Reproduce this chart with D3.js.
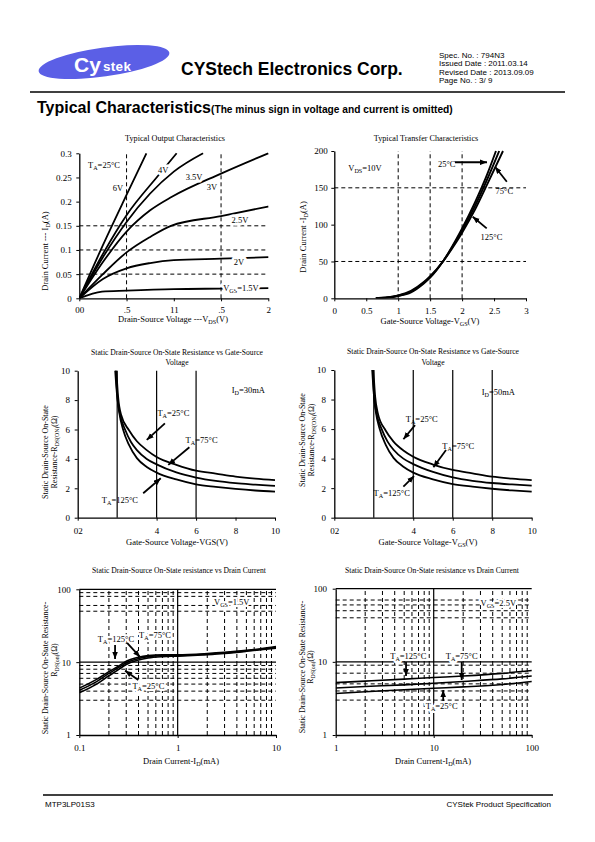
<!DOCTYPE html>
<html><head><meta charset="utf-8">
<script src="https://cdn.jsdelivr.net/npm/d3@7/dist/d3.min.js"></script>
<style>
html,body{margin:0;padding:0;background:#fff;}
svg{display:block;}
</style></head>
<body>
<svg id="page" width="595" height="842" xmlns="http://www.w3.org/2000/svg"></svg>
<script>
// ================= DATA =================
// --- Chart 1: Typical Output Characteristics (ID[A] vs VDS[V]) ---
const outXTicks = [0, 0.5, 1, 1.5, 2];
const outXTickLabels = ["00", ".5", "11", ".5", "2"];
const outYTicks = [0, 0.05, 0.1, 0.15, 0.2, 0.25, 0.3];
const outYTickLabels = ["0", "0.05", "0.1", "0.15", "0.2", "0.25", "0.3"];
const outGridX = [0.5, 1.5];
const outGridY = [0.05, 0.1, 0.15];
const outVgs6V   = [[0,0],[0.25,0.11],[0.5,0.214],[0.71,0.3]];
const outVgs4V   = [[0,0],[0.25,0.092],[0.5,0.172],[0.84,0.255],[1.03,0.3]];
const outVgs35V  = [[0,0],[0.25,0.085],[0.5,0.158],[1.0,0.262],[1.31,0.3]];
const outVgs3V   = [[0,0],[0.25,0.075],[0.5,0.138],[0.75,0.182],[0.98,0.21],[1.5,0.258],[2.0,0.3]];
const outVgs25V  = [[0,0],[0.25,0.05],[0.5,0.095],[0.75,0.127],[0.97,0.15],[1.5,0.17],[2.0,0.19]];
const outVgs2V   = [[0,0],[0.25,0.04],[0.5,0.062],[0.75,0.073],[1.0,0.079],[1.5,0.082],[2.0,0.085]];
const outVgs15V  = [[0,0],[0.24,0.014],[0.5,0.016],[1.0,0.019],[1.5,0.02],[2.0,0.021]];
const outLabelTexts = [["6V"],["4V"],["3.5V"],["3V"],["2.5V"],["2V"],["V","GS","=1.5V"]];
const outLabelPos = [[0.41,0.222],[0.887,0.259],[1.214,0.245],[1.404,0.224],[1.70,0.156],[1.69,0.069],[1.711,0.015]];

// --- Chart 2: Typical Transfer Characteristics (ID vs VGS) ---
const trXTicks = [0, 0.5, 1, 1.5, 2, 2.5, 3];
const trYTicks = [0, 50, 100, 150, 200];
const trGridX = [1, 1.5, 2];
const trGridY = [50, 150];
const tr25C  = [[0.65,0],[0.8,0.5],[1.0,3],[1.2,8],[1.4,20],[1.5,28],[1.7,50],[1.9,79],[2.0,95],[2.2,130],[2.4,170],[2.53,200]];
const tr75C  = [[0.65,0],[0.8,0.8],[1.0,3.5],[1.2,9],[1.4,21],[1.5,29],[1.7,50],[1.9,77],[2.0,92],[2.2,125],[2.4,163],[2.58,200]];
const tr125C = [[0.65,0],[0.8,1],[1.0,4],[1.2,10],[1.4,22],[1.5,30],[1.7,50],[1.9,75],[2.0,89],[2.2,120],[2.4,156],[2.64,200]];
const trLabelTexts = [["V","DS","=10V"],["25°C"],["75°C"],["125°C"]];
const trLabelPos = [[0.48,172.5],[1.76,178.6],[2.66,141.6],[2.46,79.2]];
const trArrows = [[[1.889,184.7],[2.39,184.7]],[[2.70,158.3],[2.515,178.7]],[[2.385,95],[2.166,110.8]]];

// --- Chart 3: RDS(ON) vs VGS, ID=30mA ---
const rgXTicks = [0, 4, 6, 8, 10];
const rgXTickLabels = ["02", "4", "6", "8", "10"];
const rgYTicks = [0, 2, 4, 6, 8, 10];
const rg30GridX = [2, 4, 6];
const rg30_25C  = [[1.96,10],[2.05,8.2],[2.2,7.0],[2.6,5.95],[3,5.2],[3.5,4.6],[4,4.13],[5,3.6],[6,3.2],[7,3.0],[8,2.8],[9,2.66],[10,2.56]];
const rg30_75C  = [[1.93,10],[2.02,8.1],[2.15,7.0],[2.4,6.0],[2.7,5.15],[3,4.6],[3.5,4.0],[4,3.63],[5,3.08],[6,2.73],[7,2.5],[8,2.35],[9,2.25],[10,2.16]];
const rg30_125C = [[1.9,10],[1.99,8.4],[2.1,7.2],[2.3,6.0],[2.6,4.95],[3,4.05],[3.5,3.45],[4,3.07],[5,2.6],[6,2.27],[7,2.1],[8,1.96],[9,1.85],[10,1.77]];
const rg30LabelTexts = [["T","A","=25°C"],["T","A","=75°C"],["T","A","=125°C"],["I","D","=30mA"]];
const rg30LabelPos = [[4.85,6.9],[6.28,5.08],[2.14,1.0],[8.65,8.48]];
const rg30Arrows = [[[4.42,6.42],[3.5,5.29]],[[5.66,4.79],[4.59,3.59]],[[3.32,1.66],[4.21,2.68]]];

// --- Chart 4: RDS(ON) vs VGS, ID=50mA ---
const rg50GridX = [2, 4, 6, 8];
const rg50_25C  = [[1.98,10],[2.07,8.2],[2.2,7.1],[2.6,5.9],[3,5.15],[3.5,4.55],[4,4.13],[5,3.6],[6,3.23],[7,3.0],[8,2.78],[9,2.65],[10,2.55]];
const rg50_75C  = [[1.95,10],[2.03,8.0],[2.15,7.0],[2.4,6.0],[2.7,5.15],[3,4.6],[3.5,4.0],[4,3.63],[5,3.1],[6,2.73],[7,2.5],[8,2.35],[9,2.25],[10,2.17]];
const rg50_125C = [[1.92,10],[2.0,8.4],[2.1,7.2],[2.3,6.0],[2.6,4.95],[3,4.05],[3.5,3.45],[4,3.05],[5,2.6],[6,2.28],[7,2.1],[8,1.96],[9,1.85],[10,1.76]];
const rg50LabelTexts = [["T","A","=25°C"],["T","A","=75°C"],["T","A","=125°C"],["I","D","=50mA"]];
const rg50LabelPos = [[4.43,6.48],[6.28,4.65],[2.91,1.49],[8.31,8.33]];
const rg50Arrows = [[[4.09,6.27],[3.5,5.31]],[[5.66,4.58],[5.02,3.41]],[[3.5,2.10],[4.04,2.82]]];

// --- Chart 5: RDS(on) vs ID, VGS=1.5V (log-log) ---
const rdYTicks = [1, 10, 100];
const rd15XTicks = [0.1, 1, 10];
const rd15MinorX = [0.2,0.3,0.4,0.5,0.6,0.7,0.8,0.9,2,3,4,5,6,7,8,9];
const rd15MinorY = [3,4,5,6,7,8,9,50,60,80,90];
const rd15MajorX = [1];
const rd15_125C = [[0.1,4.4],[0.15,5.8],[0.2,7.4],[0.25,8.8],[0.3,10.3],[0.4,11.7],[0.5,12.3],[0.7,12.6],[1,12.6],[2,13.1],[3,13.6],[5,14.5],[7,15.3],[10,16.4]];
const rd15_75C  = [[0.1,4.1],[0.15,5.4],[0.2,7.0],[0.25,8.4],[0.3,9.8],[0.4,11.2],[0.5,11.9],[0.7,12.3],[1,12.3],[2,12.9],[3,13.4],[5,14.3],[7,15.0],[10,16.0]];
const rd15_25C  = [[0.1,3.8],[0.15,5.0],[0.2,6.5],[0.25,7.9],[0.3,9.3],[0.4,10.7],[0.5,11.4],[0.7,11.9],[1,12.1],[2,12.7],[3,13.2],[5,14.1],[7,14.8],[10,15.6]];
const rd15LabelTexts = [["T","A","=125°C"],["T","A","=75°C"],["T","A","=25°C"],["V","GS","=1.5V"]];
const rd15LabelPos = [[0.236,18.9],[0.589,21.5],[0.504,4.28],[3.55,60.1]];
const rd15Arrows = [[[0.231,17.2],[0.231,11.07]],[[0.306,18.4],[0.414,11.8]],[[0.398,5.69],[0.292,7.64]]];

// --- Chart 6: RDS(on) vs ID, VGS=2.5V (log-log) ---
const rd25XTicks = [1, 10, 100];
const rd25MinorX = [2,3,4,5,6,7,8,9,20,30,40,50,60,70,80,90];
const rd25MinorY = [3,4,5,7,9,40,50,60,70];
const rd25MajorX = [10];
const rd25_125C = [[1,5.2],[2,5.45],[5,5.8],[10,6.1],[20,6.4],[50,6.95],[100,7.6]];
const rd25_75C  = [[1,4.4],[2,4.6],[5,4.85],[10,5.1],[20,5.4],[50,5.85],[100,6.4]];
const rd25_25C  = [[1,3.7],[2,3.9],[5,4.15],[10,4.35],[20,4.55],[50,4.9],[100,5.4]];
const rd25LabelTexts = [["T","A","=125°C"],["T","A","=75°C"],["T","A","=25°C"],["V","GS","=2.5V"]];
const rd25LabelPos = [[5.51,10.8],[19.3,10.9],[12.07,2.27],[45.6,58]];
const rd25Arrows = [[[5.22,9.95],[5.22,6.41]],[[19.3,9.95],[19.3,5.65]],[[12.5,2.92],[12.5,4.12]]];

// ================= DRAWING =================
const SERIF = "'Liberation Serif','Times New Roman',serif";
const SANS = "'Liberation Sans',Arial,Helvetica,sans-serif";
const svg = d3.select("#page");

const defs = svg.append("defs");
defs.append("marker").attr("id","arr").attr("viewBox","0 0 10 8").attr("refX",10).attr("refY",4)
  .attr("markerWidth",7).attr("markerHeight",6).attr("markerUnits","userSpaceOnUse").attr("orient","auto")
  .append("path").attr("d","M0,0 L10,4 L0,8 Z").attr("fill","#000");

function addText(g, x, y, parts, size, anchor, halo, family) {
  const t = g.append("text").attr("x", x).attr("y", y)
    .attr("font-family", family || SERIF).attr("font-size", size)
    .attr("text-anchor", anchor || "middle").attr("fill", "#000");
  if (halo) t.attr("stroke", "#fff").attr("stroke-width", halo).attr("paint-order", "stroke").attr("stroke-linejoin", "round");
  parts.forEach((p, i) => {
    const s = i % 2 === 1;
    t.append("tspan").attr("font-size", s ? size * 0.72 : size)
      .attr("dy", s ? size * 0.22 : (i > 0 ? -size * 0.22 : 0)).text(p);
  });
  return t;
}
function addVText(g, x, y, parts, size) {
  const gg = g.append("g").attr("transform", `translate(${x},${y}) rotate(-90)`);
  return addText(gg, 0, 0, parts, size, "middle");
}
let clipId = 0;
function makeClip(x, y) {
  const id = "clip" + (clipId++);
  const [x0, x1] = x.range(), [y0, y1] = y.range();
  defs.append("clipPath").attr("id", id).append("rect")
    .attr("x", x0).attr("y", y1 - 1).attr("width", x1 - x0 + 1).attr("height", y0 - y1 + 1);
  return id;
}
function drawAxes(g, x, y, xt, xl, yt, yl, xPad, yPad) {
  const ax = g.append("g").attr("transform", `translate(0,${y.range()[0]})`)
    .call(d3.axisBottom(x).tickValues(xt).tickFormat((d, i) => xl[i]).tickSize(3).tickSizeOuter(0).tickPadding(xPad));
  const ay = g.append("g").attr("transform", `translate(${x.range()[0]},0)`)
    .call(d3.axisLeft(y).tickValues(yt).tickFormat((d, i) => yl[i]).tickSize(3).tickSizeOuter(0).tickPadding(yPad));
  [ax, ay].forEach(a => {
    a.attr("font-family", SERIF).attr("font-size", 9);
    a.select(".domain").attr("stroke", "#000").attr("stroke-width", 1.3);
    a.selectAll(".tick line").attr("stroke", "#000");
    a.selectAll("text").attr("fill", "#000");
  });
}
function vGrid(g, x, y, vals, dashed, w) {
  const [y0, y1] = y.range();
  g.append("g").selectAll("line").data(vals).join("line")
    .attr("x1", d => x(d)).attr("x2", d => x(d)).attr("y1", y0).attr("y2", y1)
    .attr("stroke", "#000").attr("stroke-width", w || 1).attr("stroke-dasharray", dashed ? "4,3" : null);
}
function hGrid(g, x, y, vals, dashed, w) {
  const [x0, x1] = x.range();
  g.append("g").selectAll("line").data(vals).join("line")
    .attr("y1", d => y(d)).attr("y2", d => y(d)).attr("x1", x0).attr("x2", x1)
    .attr("stroke", "#000").attr("stroke-width", w || 1).attr("stroke-dasharray", dashed ? "4,3" : null);
}
function curves(g, x, y, series, w, clip) {
  const line = d3.line().x(d => x(d[0])).y(d => y(d[1])).curve(d3.curveMonotoneX);
  g.append("g").attr("clip-path", `url(#${clip})`).selectAll("path").data(series).join("path")
    .attr("d", line).attr("fill", "none").attr("stroke", "#000").attr("stroke-width", w)
    .attr("stroke-linejoin", "round");
}
function labels(g, x, y, texts, pos, size, halo) {
  texts.forEach((t, i) => addText(g, x(pos[i][0]), y(pos[i][1]), t, size, "middle", halo));
}
function arrows(g, x, y, arr) {
  g.append("g").selectAll("line").data(arr).join("line")
    .attr("x1", d => x(d[0][0])).attr("y1", d => y(d[0][1]))
    .attr("x2", d => x(d[1][0])).attr("y2", d => y(d[1][1]))
    .attr("stroke", "#000").attr("stroke-width", 1.8).attr("marker-end", "url(#arr)");
}

// ---------- Header ----------
const hdr = svg.append("g");
hdr.append("ellipse").attr("cx", 104).attr("cy", 62).attr("rx", 66).attr("ry", 14.5)
  .attr("transform", "rotate(-8,104,62)").attr("fill", "#5b5fe6");
hdr.append("text").attr("x", 74).attr("y", 72).attr("font-family", SANS).attr("font-weight", "900")
  .attr("font-size", 21).attr("fill", "#fff").text("Cy");
hdr.append("text").attr("x", 103).attr("y", 71).attr("font-family", SANS).attr("font-weight", "bold")
  .attr("font-size", 13.5).attr("letter-spacing", 0.3).attr("fill", "#fff").text("stek");
hdr.append("text").attr("x", 181).attr("y", 75).attr("font-family", SANS).attr("font-weight", "bold")
  .attr("font-size", 17.5).attr("fill", "#000").text("CYStech Electronics Corp.");
const specLines = ["Spec. No. : 794N3", "Issued Date : 2011.03.14", "Revised Date : 2013.09.09", "Page No. : 3/ 9"];
specLines.forEach((s, i) => hdr.append("text").attr("x", 439).attr("y", 57.5 + i * 8.6)
  .attr("font-family", SANS).attr("font-size", 8).attr("fill", "#000").text(s));
hdr.append("line").attr("x1", 30).attr("x2", 565).attr("y1", 92).attr("y2", 92).attr("stroke", "#000").attr("stroke-width", 1.3);
const ttl = hdr.append("text").attr("x", 37).attr("y", 113).attr("font-family", SANS).attr("font-weight", "bold").attr("fill", "#000");
ttl.append("tspan").attr("font-size", 16).text("Typical Characteristics");
ttl.append("tspan").attr("font-size", 10.2).text("(The minus sign in voltage and current is omitted)");

// ---------- Footer ----------
svg.append("line").attr("x1", 43).attr("x2", 553).attr("y1", 795).attr("y2", 795).attr("stroke", "#000").attr("stroke-width", 1.3);
svg.append("text").attr("x", 45).attr("y", 807).attr("font-family", SANS).attr("font-size", 8).text("MTP3LP01S3");
svg.append("text").attr("x", 551).attr("y", 807).attr("text-anchor", "end").attr("font-family", SANS).attr("font-size", 8).text("CYStek Product Specification");

// ---------- Chart 1 ----------
{
  const g = svg.append("g");
  const x = d3.scaleLinear().domain([0, 2]).range([79.3, 268.3]);
  const y = d3.scaleLinear().domain([0, 0.3]).range([298.3, 153.3]);
  const clip = makeClip(x, y);
  vGrid(g, x, y, outGridX, true);
  hGrid(g, x, y, outGridY, true);
  curves(g, x, y, [outVgs6V, outVgs4V, outVgs35V, outVgs3V, outVgs25V, outVgs2V, outVgs15V], 1.8, clip);
  drawAxes(g, x, y, outXTicks, outXTickLabels, outYTicks, outYTickLabels, 5.3, 4.5);
  labels(g, x, y, outLabelTexts, outLabelPos, 8.5, 5);
  addText(g, x(0.092), y(0.27), ["T","A","=25°C"], 8.5, "start");
  addText(g, 175, 140.5, ["Typical Output Characteristics"], 8.2);
  addText(g, 173, 322, ["Drain-Source Voltage ---V","DS","(V)"], 8.5);
  addVText(g, 48, 251, ["Drain Current --- I","D","(A)"], 8.5);
}

// ---------- Chart 2 ----------
{
  const g = svg.append("g");
  const x = d3.scaleLinear().domain([0, 3]).range([334.3, 526]);
  const y = d3.scaleLinear().domain([0, 200]).range([298.3, 151]);
  const clip = makeClip(x, y);
  vGrid(g, x, y, trGridX, true);
  hGrid(g, x, y, trGridY, true);
  curves(g, x, y, [tr25C, tr75C, tr125C], 1.9, clip);
  drawAxes(g, x, y, trXTicks, trXTicks.map(String), trYTicks, trYTicks.map(String), 6.3, 3.6);
  labels(g, x, y, trLabelTexts, trLabelPos, 8.5, 0);
  arrows(g, x, y, trArrows);
  addText(g, 426, 140.5, ["Typical Transfer Characteristics"], 8.2);
  addText(g, 430, 324, ["Gate-Source Voltage-V","GS","(V)"], 8.5);
  addVText(g, 306, 237, ["Drain Current -I","D","(A)"], 8.5);
}

// ---------- Chart 3 ----------
{
  const g = svg.append("g");
  const x = d3.scaleLinear().domain([0, 10]).range([77.7, 275]);
  const y = d3.scaleLinear().domain([0, 10]).range([517.7, 370.7]);
  const clip = makeClip(x, y);
  vGrid(g, x, y, rg30GridX, false, 1.2);
  curves(g, x, y, [rg30_25C, rg30_75C, rg30_125C], 1.8, clip);
  drawAxes(g, x, y, rgXTicks, rgXTickLabels, rgYTicks, rgYTicks.map(String), 6.9, 4.7);
  labels(g, x, y, rg30LabelTexts, rg30LabelPos, 8.5, 0);
  arrows(g, x, y, rg30Arrows);
  addText(g, 177, 354.5, ["Static Drain-Source On-State Resistance vs Gate-Source"], 7.6);
  addText(g, 177, 365, ["Voltage"], 7.6);
  addText(g, 177, 545, ["Gate-Source Voltage-VGS(V)"], 8.5);
  addVText(g, 48, 452, ["Static Drain-Source On-State"], 8);
  addVText(g, 57, 452, ["Resistance-R","DS(ON)","(Ω)"], 8);
}

// ---------- Chart 4 ----------
{
  const g = svg.append("g");
  const x = d3.scaleLinear().domain([0, 10]).range([334.3, 531.7]);
  const y = d3.scaleLinear().domain([0, 10]).range([517.7, 370]);
  const clip = makeClip(x, y);
  vGrid(g, x, y, rg50GridX, false, 1.2);
  curves(g, x, y, [rg50_25C, rg50_75C, rg50_125C], 1.8, clip);
  drawAxes(g, x, y, rgXTicks, rgXTickLabels, rgYTicks, rgYTicks.map(String), 6.9, 5.3);
  labels(g, x, y, rg50LabelTexts, rg50LabelPos, 8.5, 0);
  arrows(g, x, y, rg50Arrows);
  addText(g, 433, 353.5, ["Static Drain-Source On-State Resistance vs Gate-Source"], 7.6);
  addText(g, 433, 364.5, ["Voltage"], 7.6);
  addText(g, 428, 545, ["Gate-Source Voltage-V","GS","(V)"], 8.5);
  addVText(g, 305, 440, ["Static Drain-Source On-State"], 8);
  addVText(g, 314, 440, ["Resistance-R","DS(ON)","(Ω)"], 8);
}

// ---------- Chart 5 ----------
{
  const g = svg.append("g");
  const x = d3.scaleLog().domain([0.1, 10]).range([79.3, 276]);
  const y = d3.scaleLog().domain([1, 100]).range([735, 589.3]);
  const clip = makeClip(x, y);
  vGrid(g, x, y, rd15MinorX, true);
  hGrid(g, x, y, rd15MinorY, true);
  vGrid(g, x, y, rd15MajorX, false, 1.2);
  hGrid(g, x, y, [10, 100], false, 1.2);
  curves(g, x, y, [rd15_125C, rd15_75C, rd15_25C], 1.6, clip);
  drawAxes(g, x, y, rd15XTicks, rd15XTicks.map(String), rdYTicks, rdYTicks.map(String), 7.1, 5.6);
  labels(g, x, y, rd15LabelTexts, rd15LabelPos, 8.5, 4);
  arrows(g, x, y, rd15Arrows);
  addText(g, 179, 573, ["Static Drain-Source On-State resistance vs Drain Current"], 7.6);
  addText(g, 181, 764, ["Drain Current-I","D","(mA)"], 8.5);
  addVText(g, 48, 668, ["Static Drain-Source On-State Resistance-"], 8);
  addVText(g, 57, 660, ["R","DS(on)","(Ω)"], 8);
}

// ---------- Chart 6 ----------
{
  const g = svg.append("g");
  const x = d3.scaleLog().domain([1, 100]).range([335.7, 531.7]);
  const y = d3.scaleLog().domain([1, 100]).range([735, 588.7]);
  const clip = makeClip(x, y);
  vGrid(g, x, y, rd25MinorX, true);
  hGrid(g, x, y, rd25MinorY, true);
  vGrid(g, x, y, rd25MajorX, false, 1.2);
  hGrid(g, x, y, [10, 100], false, 1.2);
  curves(g, x, y, [rd25_125C, rd25_75C, rd25_25C], 1.6, clip);
  drawAxes(g, x, y, rd25XTicks, rd25XTicks.map(String), rdYTicks, rdYTicks.map(String), 7.1, 5.7);
  labels(g, x, y, rd25LabelTexts, rd25LabelPos, 8.5, 4);
  arrows(g, x, y, rd25Arrows);
  addText(g, 432, 573, ["Static Drain-Source On-State resistance vs Drain Current"], 7.6);
  addText(g, 433, 764, ["Drain Current-I","D","(mA)"], 8.5);
  addVText(g, 305, 667, ["Static Drain-Source On-State Resistance-"], 8);
  addVText(g, 313, 667, ["R","DS(on)","(Ω)"], 8);
}
</script>
</body></html>
